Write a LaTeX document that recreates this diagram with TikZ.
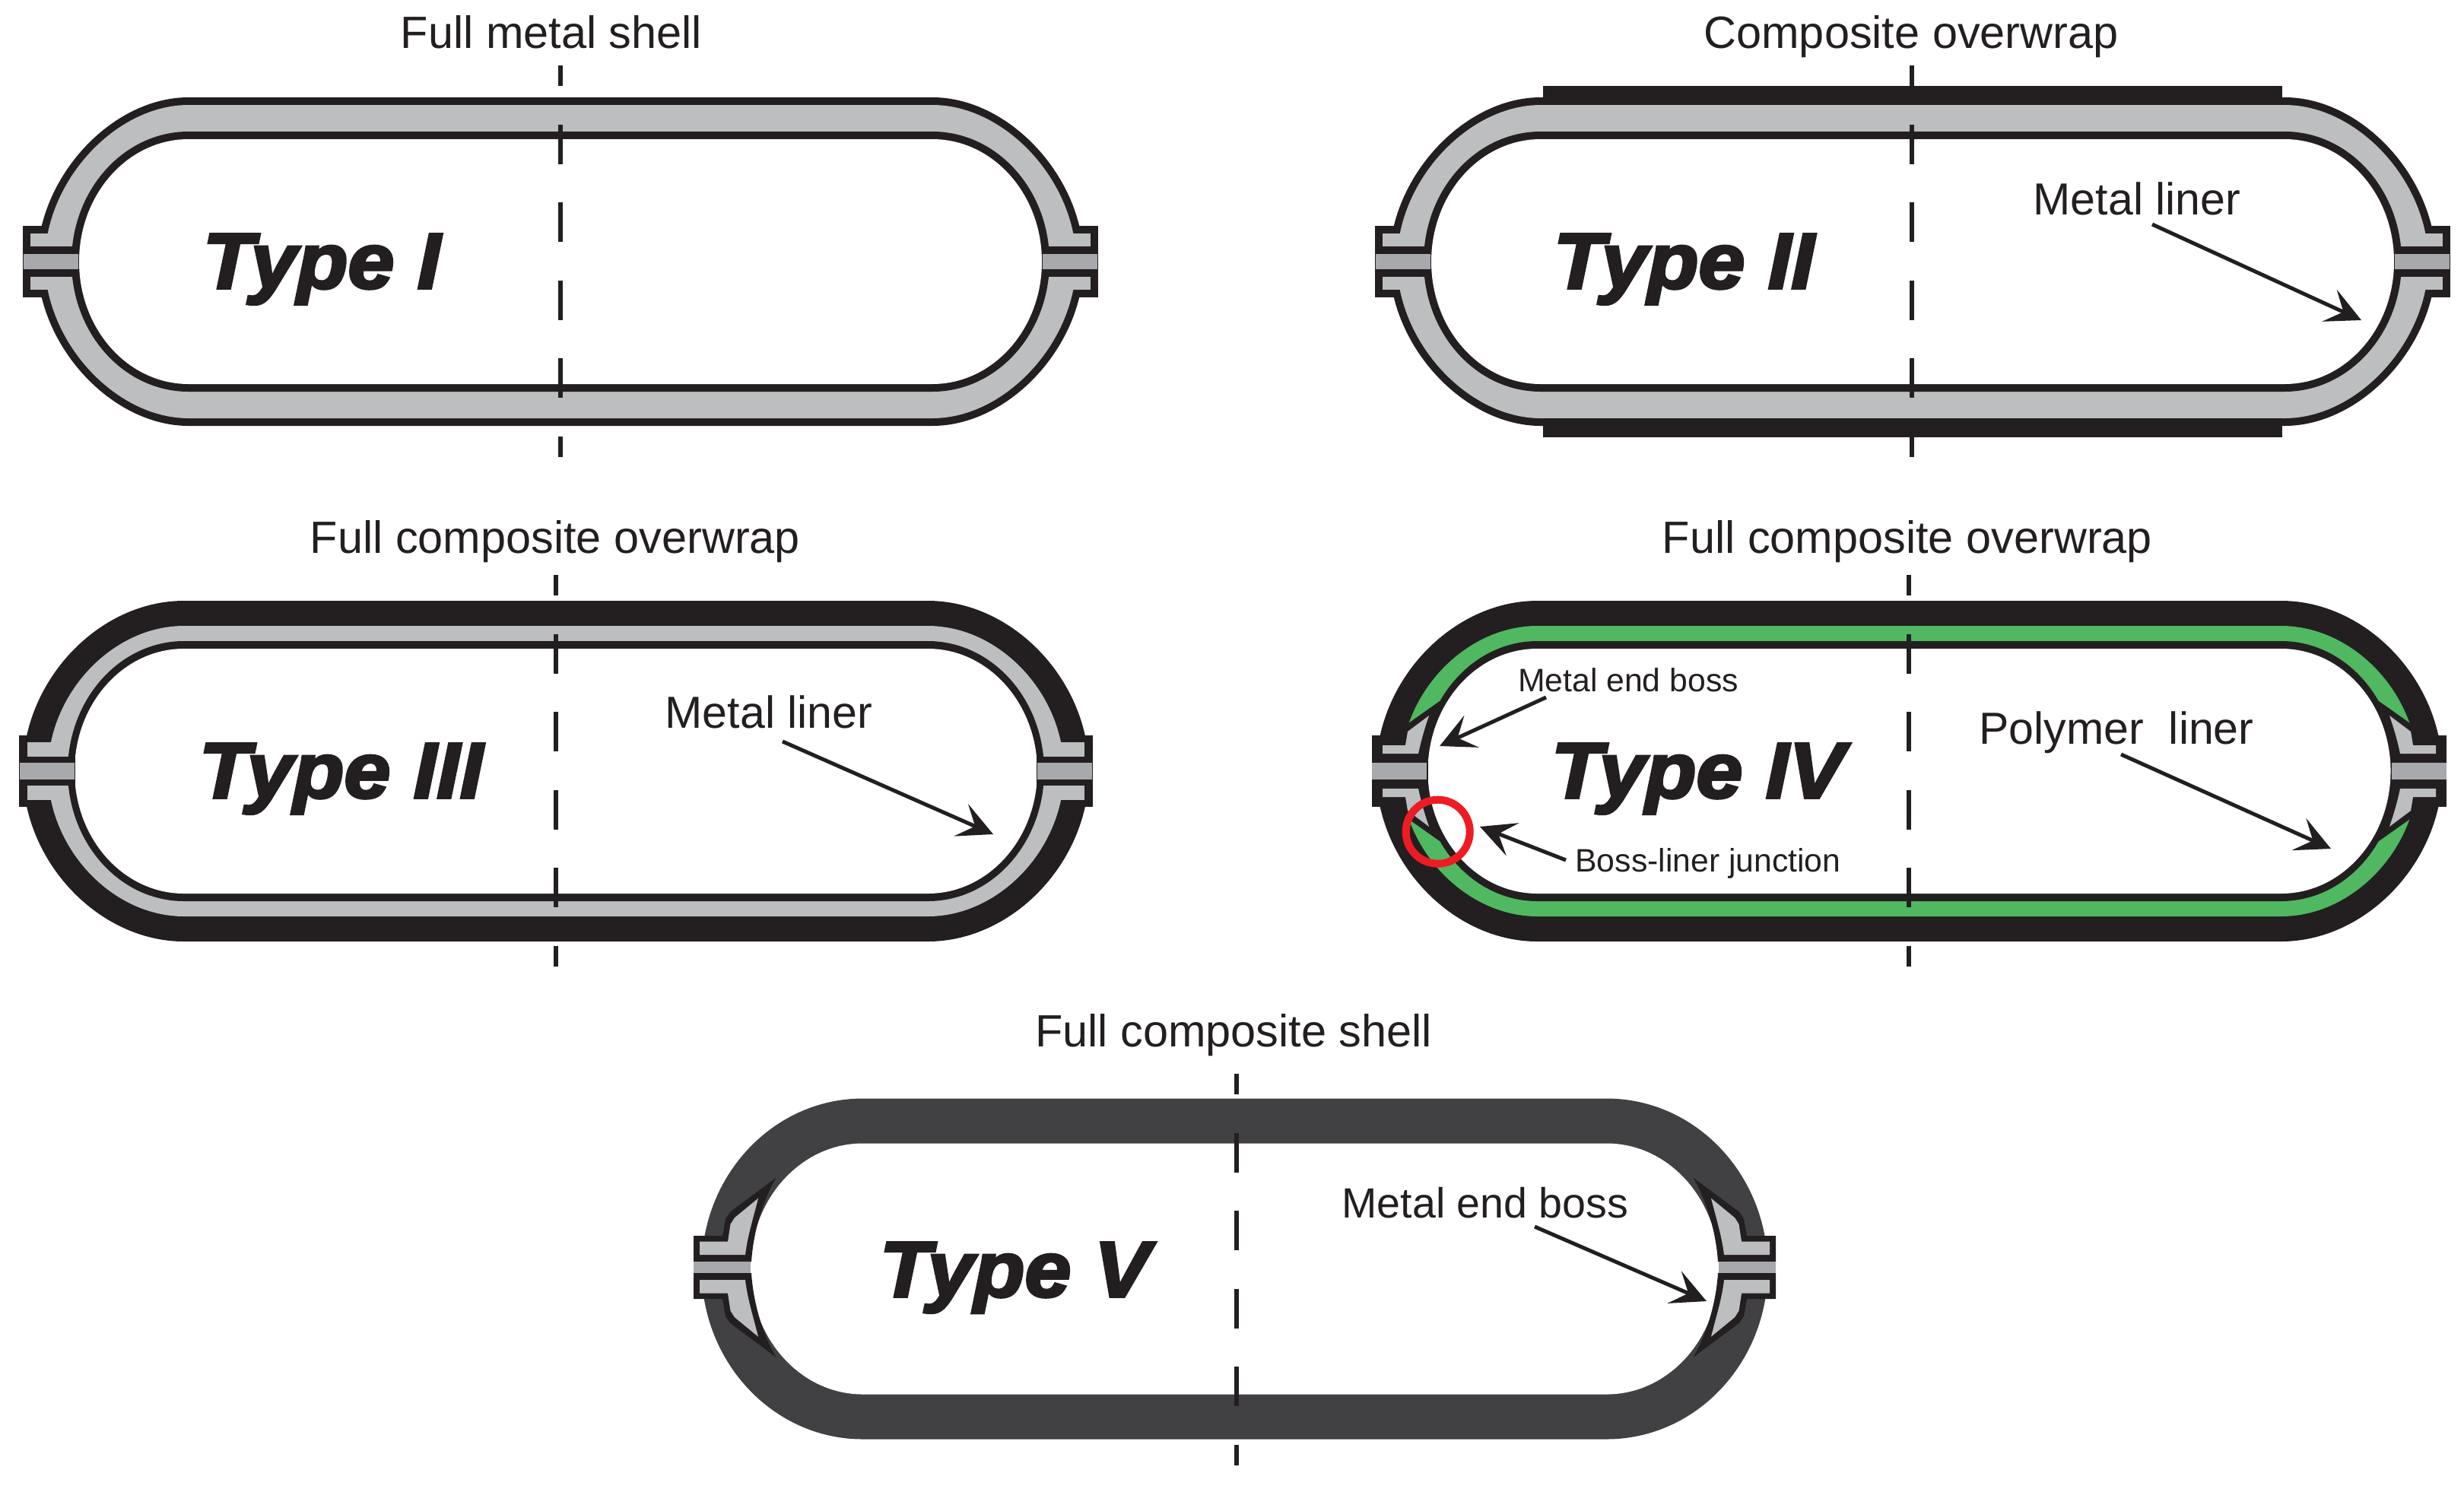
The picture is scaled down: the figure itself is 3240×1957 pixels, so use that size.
\documentclass[tikz,border=0pt]{standalone}
\usepackage{fontspec}
\setmainfont{Liberation Sans}
\newfontfamily\heavyfont[BoldItalicFont={Liberation Sans Bold Italic},BoldItalicFeatures={FakeBold=3.4,FakeStretch=1.06}]{Liberation Sans}
\usetikzlibrary{arrows.meta}
\definecolor{ink}{HTML}{231F20}
\definecolor{metal}{HTML}{BCBEC0}
\definecolor{slotgray}{HTML}{A7A9AC}
\definecolor{liner}{HTML}{50B860}
\definecolor{shellgray}{HTML}{414042}
\definecolor{ringred}{HTML}{ED1C24}
\tikzset{
  axisline/.style={ink,line width=0.06cm,dash pattern=on 0.52cm off 0.505cm,dash phase=0.25cm},
  leader/.style={ink,line width=0.05cm,-{Stealth[length=0.46cm,width=0.46cm,inset=0.2cm]}},
  heading/.style={anchor=base,inner sep=0pt,text=ink,font=\fontsize{16.9pt}{20pt}\selectfont},
  callout/.style={anchor=base,inner sep=0pt,text=ink,font=\fontsize{16.8pt}{20pt}\selectfont},
  smallcallout/.style={anchor=base,inner sep=0pt,text=ink,font=\fontsize{12.15pt}{14pt}\selectfont},
  typelabel/.style={anchor=base west,inner sep=0pt,text=ink,font=\heavyfont\bfseries\itshape\fontsize{29.4pt}{32pt}\selectfont},
}
% closed stadium: straight half length 489, kappa #1, end semi-axes #2, half height #3
\newcommand{\stad}[3]{(-489,-#3) -- (489,-#3)
  .. controls ({489+#1*#2},-#3) and ({489+#2},{-#1*#3}) .. ({489+#2},0)
  .. controls ({489+#2},{#1*#3}) and ({489+#1*#2},#3) .. (489,#3)
  -- (-489,#3)
  .. controls ({-489-#1*#2},#3) and ({-489-#2},{#1*#3}) .. ({-489-#2},0)
  .. controls ({-489-#2},{-#1*#3}) and ({-489-#1*#2},-#3) .. (-489,-#3) -- cycle}
% metal vessel wall with thin outer line (types I, II)
\newcommand{\thinwall}{%
  \fill[ink] \stad{0.51}{199}{216};
  \fill[ink] (-707,-47) rectangle (707,47);
  \fill[metal] \stad{0.51}{189}{206};
  \foreach \s in {1,-1}{\begin{scope}[xscale=\s]
    \fill[metal] (-697,-37) rectangle (-640,-20);
    \fill[metal] (-697,20) rectangle (-640,37);
  \end{scope}}
  \fill[ink] \stad{0.5523}{154}{171};
  \fill[white] \stad{0.5523}{144}{161};
  \foreach \s in {1,-1}{\begin{scope}[xscale=\s]
    \fill[ink] (-707,-20) rectangle (-633,20);
    \fill[slotgray] (-706,-10) rectangle (-634,10);
  \end{scope}}
}
\begin{document}
\begin{tikzpicture}[x=0.01cm,y=-0.01cm]
\useasboundingbox (0,0) rectangle (3240,1957);
% ---------- Type I
\begin{scope}[shift={(737,344)}]
  \thinwall
\end{scope}
% ---------- Type II
\begin{scope}[shift={(2515,344)}]
  \thinwall
  \fill[ink] (-486,-231) rectangle (486,-206);
  \fill[ink] (-486,206) rectangle (486,231);
\end{scope}
% ---------- Type III
\begin{scope}[shift={(731,1014)}]
  \fill[ink] \stad{0.53}{212}{224};
  \fill[ink] (-706,-47) rectangle (706,47);
  \fill[metal] \stad{0.53}{179}{191};
  \foreach \s in {1,-1}{\begin{scope}[xscale=\s]
    \fill[metal] (-695,-38) rectangle (-640,-19);
    \fill[metal] (-695,19) rectangle (-640,38);
  \end{scope}}
  \fill[ink] \stad{0.5523}{153}{171};
  \fill[white] \stad{0.5523}{144}{161};
  \foreach \s in {1,-1}{\begin{scope}[xscale=\s]
    \fill[ink] (-706,-19) rectangle (-632,19);
    \fill[slotgray] (-705,-11) rectangle (-633,11);
  \end{scope}}
\end{scope}
% ---------- Type IV
\begin{scope}[shift={(2510.5,1014)}]
  \fill[ink] \stad{0.53}{212}{224};
  \fill[ink] (-706.5,-47) rectangle (706.5,47);
  \fill[liner] \stad{0.53}{180}{191};
  \foreach \s in {1,-1}{\begin{scope}[xscale=\s]
    \fill[ink] (-617.5,-92) -- (-658.5,-63) -- (-680,-40) -- (-680,40) -- (-658.5,63) -- (-617.5,92) -- (-600,0) -- cycle;
  \end{scope}}
  \fill[ink] \stad{0.5523}{152}{171};
  \fill[white] \stad{0.5523}{144}{161};
  \foreach \s in {1,-1}{\begin{scope}[xscale=\s]
    \fill[ink] (-706.5,-23) rectangle (-633,23);
    \fill[slotgray] (-706.5,-11) rectangle (-634.5,11);
    \foreach \t in {1,-1}{\begin{scope}[yscale=\t]
      \fill[metal] (-692.5,-34) -- (-662.5,-34) -- (-659.5,-52) -- (-631.5,-73)
        .. controls (-637,-57) and (-642,-40) .. (-645.5,-23) -- (-692.5,-23) -- cycle;
    \end{scope}}
  \end{scope}}
\end{scope}
% ---------- Type V
\begin{scope}[shift={(1623.5,1668.5)}]
  \fill[shellgray] \stad{0.5523}{212}{224};
  \fill[white] \stad{0.5523}{148}{165};
\end{scope}
\begin{scope}[shift={(1623.5,1666.7)}]
  \foreach \s in {1,-1}{\begin{scope}[xscale=\s]
    \foreach \t in {1,-1}{\begin{scope}[yscale=\t]
      \fill[ink] (-711.5,-41.5) -- (-673.5,-41.5) -- (-669.5,-64) -- (-663.5,-73) -- (-603,-118)
        .. controls (-622,-85) and (-633,-45) .. (-635.5,-7.5) -- (-711.5,-7.5) -- cycle;
      \fill[metal] (-703.5,-34) -- (-666.5,-34) -- (-663,-57) -- (-657.5,-65.5) -- (-626.5,-91)
        .. controls (-633,-65) and (-641,-40) .. (-643.5,-16.5) -- (-703.5,-16.5) -- cycle;
    \end{scope}}
    \fill[slotgray] (-711.5,-7.5) rectangle (-636.5,7.5);
  \end{scope}}
\end{scope}
% ---------- centre lines
\foreach \n/\x/\a/\b in {one/736.7/86/601,two/2514/86/601,three/731/756/1271,four/2510/756/1271,five/1625.7/1412/1927}{
  \coordinate (axis\n a) at (\x,\a);
  \coordinate (axis\n b) at (\x,\b);
  \draw[axisline] (axis\n a) -- (axis\n b);
}
% ---------- junction ring
\node (ring) [circle,draw=ringred,line width=0.1cm,minimum size=0.84cm,inner sep=0pt] at (1890.7,1093.7) {};
% ---------- headings
\node (h1) [heading] at (725,63) {Full metal shell};
\node (h2) [heading] at (2513,63) {Composite overwrap};
\node (h3) [heading] at (730,727) {Full composite overwrap};
\node (h4) [heading] at (2508,727) {Full composite overwrap};
\node (h5) [heading] at (1622,1376) {Full composite shell};
% ---------- type labels
\node (t1) [typelabel] at (266,379) {Type I};
\node (t2) [typelabel] at (2042,379) {Type II};
\node (t3) [typelabel] at (261,1049) {Type III};
\node (t4) [typelabel] at (2039,1049) {Type IV};
\node (t5) [typelabel] at (1156,1705) {Type V};
% ---------- callouts
\node (c1) [callout] at (2810,282) {Metal liner};
\node (c2) [callout] at (1011,957) {Metal liner};
\node (c3) [smallcallout] at (2141,909) {Metal end boss};
\node (c4) [smallcallout] at (2246,1146) {Boss-liner junction};
\node (c5) [callout] at (2783,978) {Polymer\ \ liner};
\node (c6) [callout,font=\fontsize{15.8pt}{20pt}\selectfont] at (1953,1601) {Metal end boss};
% ---------- arrows
\coordinate (c1tail) at (2830,295);  \coordinate (c1tip) at (3105,421);
\coordinate (c2tail) at (1029,975);  \coordinate (c2tip) at (1306,1097);
\coordinate (c3tail) at (2033,917);  \coordinate (c3tip) at (1893,981);
\coordinate (c4tail) at (2059,1131); \coordinate (c4tip) at (1946,1087);
\coordinate (c5tail) at (2789,992);  \coordinate (c5tip) at (3065,1116);
\coordinate (c6tail) at (2018,1613); \coordinate (c6tip) at (2244,1711);
\draw[leader] (c1tail) -- (c1tip);
\draw[leader] (c2tail) -- (c2tip);
\draw[leader] (c3tail) -- (c3tip);
\draw[leader] (c4tail) -- (c4tip);
\draw[leader] (c5tail) -- (c5tip);
\draw[leader] (c6tail) -- (c6tip);
\end{tikzpicture}
\end{document}
